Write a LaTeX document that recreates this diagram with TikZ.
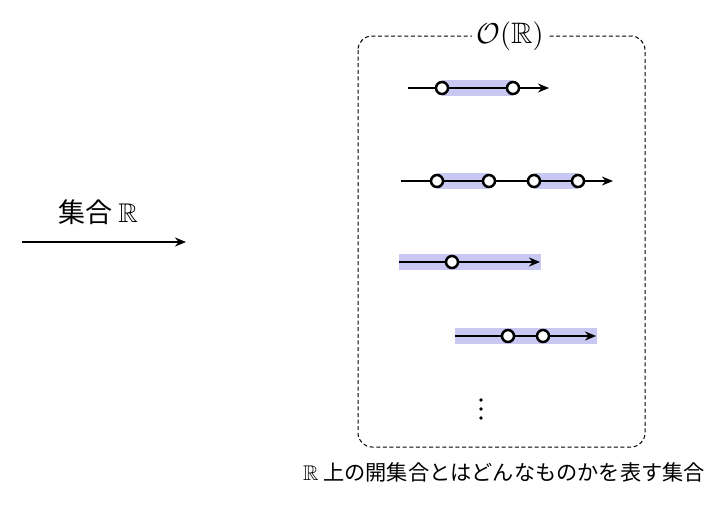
\documentclass[tikz,border=0pt]{standalone}
\usepackage{amssymb}
\usepackage{fontspec}
\newfontfamily\jpfont{Noto Sans CJK JP}
\usetikzlibrary{arrows.meta}
\definecolor{hl}{RGB}{200,200,242}
\tikzset{
  opt/.style={circle, draw=black, fill=white, line width=1.25pt, minimum size=6pt, inner sep=0pt, outer sep=0pt},
  seg/.style={line width=1.15pt},
  segarr/.style={line width=1.15pt, -{Stealth[length=5.5pt,width=4.5pt]}},
  lbl/.style={font=\jpfont\fontsize{10.6}{13}\selectfont, inner sep=1pt},
  dotm/.style={circle, fill=black, minimum size=1.8pt, inner sep=0pt}
}
\begin{document}
\begin{tikzpicture}[x=0.5pt,y=-0.5pt]
\useasboundingbox (0,0) rectangle (725,505);
% frame
\draw[dash pattern=on 2pt off 1.3pt, line width=0.5pt, rounded corners=7pt] (358,36) rectangle (645,447);
\node[fill=white, inner sep=2pt, font=\fontsize{14.8}{17}\selectfont] (title) at (510,36) {$\mathcal{O}(\mathbb{R})$};
% left arrow
\coordinate (la) at (22,242);
\coordinate (lb) at (186,242);
\draw[segarr] (la) -- (lb);
\node[lbl, font=\jpfont\fontsize{13.5}{16}\selectfont] (setR) at (98,212) {集合 $\mathbb{R}$};
% bottom label
\node[lbl] (cap) at (504,472) {$\mathbb{R}$ 上の開集合とはどんなものかを表す集合};
% line 1
\fill[hl] (442,80) rectangle (513,96);
\coordinate (s1) at (408,88);
\coordinate (e1) at (549,88);
\node[opt] (a1) at (442,88) {};
\node[opt] (b1) at (513,88) {};
\draw[seg] (s1) -- (a1);
\draw[seg] (a1) -- (b1);
\draw[segarr] (b1) -- (e1);
% line 2
\fill[hl] (437,173) rectangle (489,189);
\fill[hl] (534,173) rectangle (578,189);
\coordinate (s2) at (401,181);
\coordinate (e2) at (613,181);
\node[opt] (a2) at (437,181) {};
\node[opt] (b2) at (489,181) {};
\node[opt] (c2) at (534,181) {};
\node[opt] (d2) at (578,181) {};
\draw[seg] (s2) -- (a2);
\draw[seg] (a2) -- (b2);
\draw[seg] (b2) -- (c2);
\draw[seg] (c2) -- (d2);
\draw[segarr] (d2) -- (e2);
% line 3
\fill[hl] (399,254) rectangle (541,270);
\coordinate (s3) at (399,262);
\coordinate (e3) at (540,262);
\node[opt] (a3) at (452,262) {};
\draw[seg] (s3) -- (a3);
\draw[segarr] (a3) -- (e3);
% line 4
\fill[hl] (455,328) rectangle (597,344);
\coordinate (s4) at (455,336);
\coordinate (e4) at (596,336);
\node[opt] (a4) at (508,336) {};
\node[opt] (b4) at (543,336) {};
\draw[seg] (s4) -- (a4);
\draw[seg] (a4) -- (b4);
\draw[segarr] (b4) -- (e4);
% dots
\node[dotm] (d1) at (481,400) {};
\node[dotm] (d2) at (481,409) {};
\node[dotm] (d3) at (481,418) {};
\end{tikzpicture}
\end{document}
